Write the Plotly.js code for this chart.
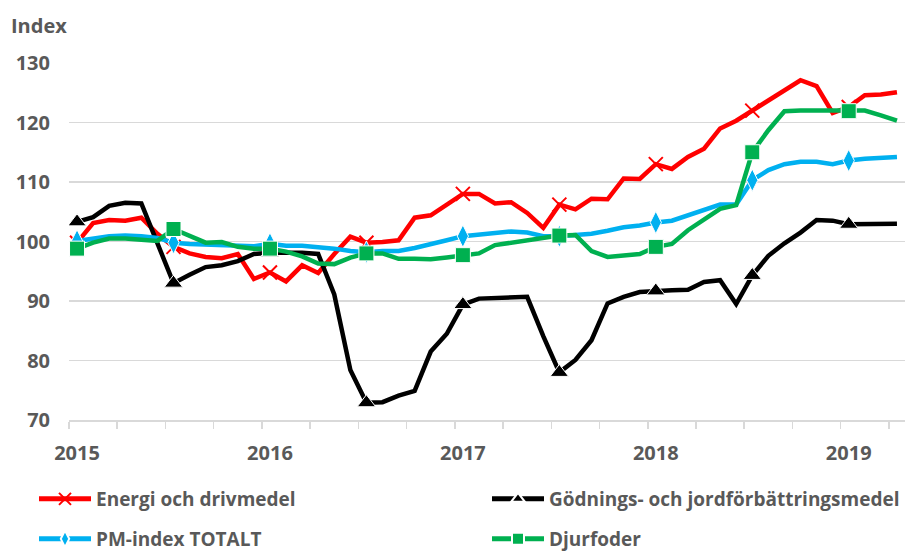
<!DOCTYPE html>
<html>
<head>
<meta charset="utf-8">
<script src="https://cdn.plot.ly/plotly-3.0.1.min.js"></script>
<style>html,body{margin:0;padding:0;background:#fff;}#chart{width:919px;height:552px;}</style>
</head>
<body>
<div id="chart"></div>
<script>
// Monthly index values, Jan 2015 .. Apr 2019
const yearLabels = ['2015', '2016', '2017', '2018', '2019'];
const yearPositions = [0, 12, 24, 36, 48];

const energi = [99.8, 103.1, 103.6, 103.5, 104.0, 101.3, 99.1, 98.0, 97.4, 97.2, 97.9, 93.7,
  94.8, 93.3, 96.0, 94.7, 97.9, 100.8, 99.8, 99.9, 100.2, 104.0, 104.4, 106.3,
  108.0, 108.0, 106.4, 106.6, 104.8, 102.3, 106.2, 105.4, 107.2, 107.1, 110.6, 110.5,
  113.0, 112.2, 114.2, 115.6, 119.0, 120.3, 122.0, 123.7, 125.3, 127.1, 126.1, 121.6,
  122.6, 124.6, 124.7, 125.1];

const godning = [103.3, 104.1, 106.0, 106.5, 106.4, 99.7, 93.0, 94.4, 95.7, 96.0, 96.7, 97.9,
  98.1, 98.1, 98.1, 97.9, 91.1, 78.4, 72.9, 73.0, 74.1, 74.9, 81.5, 84.5,
  89.4, 90.4, 90.5, 90.6, 90.7, 84.1, 78.0, 80.1, 83.4, 89.6, 90.7, 91.5,
  91.7, 91.8, 91.9, 93.2, 93.5, 89.5, 94.3, 97.6, 99.7, 101.5, 103.6, 103.5,
  102.9, 102.9, 103.0, 103.0];

const pmIndex = [100.1, 100.5, 100.9, 101.0, 100.9, 100.6, 99.8, 99.6, 99.5, 99.5, 99.3, 99.2,
  99.6, 99.3, 99.3, 99.1, 98.8, 98.4, 98.2, 98.4, 98.4, 98.9, 99.5, 100.2,
  100.9, 101.2, 101.4, 101.7, 101.5, 100.9, 100.9, 101.1, 101.3, 101.8, 102.4, 102.7,
  103.2, 103.5, 104.4, 105.3, 106.2, 106.2, 110.3, 112.0, 113.0, 113.4, 113.4, 113.0,
  113.6, 113.9, 114.0, 114.2];

const djurfoder = [98.8, 99.8, 100.5, 100.5, 100.3, 100.1, 102.1, 100.9, 99.8, 99.9, 99.1, 98.8,
  98.8, 98.3, 97.5, 96.3, 96.2, 97.3, 98.0, 98.0, 97.1, 97.1, 97.0, 97.3,
  97.7, 98.0, 99.4, 99.8, 100.1, 100.6, 101.0, 101.1, 98.4, 97.4, 97.6, 97.9,
  99.1, 99.6, 101.9, 103.8, 105.5, 106.1, 115.0, 118.7, 121.9, 122.0, 122.0, 122.0,
  121.9, 122.0, 121.2, 120.3];

const seriesNames = ['Energi och drivmedel', 'Gödnings- och jordförbättringsmedel', 'PM-index TOTALT', 'Djurfoder'];

const xIdx = energi.map((_, i) => i);
const markerEvery = 6;
function sizes(s) { return xIdx.map(i => (i % markerEvery === 0 ? s : 0)); }

const FONT = 'Open Sans, Lato, Liberation Sans, sans-serif';

const traces = [
  {
    x: xIdx, y: energi, name: seriesNames[0], type: 'scatter', mode: 'lines+markers',
    line: {color: '#FF0000', width: 4.5},
    marker: {symbol: 'x-thin-open', size: sizes(14), opacity: 1, color: '#FF0000', line: {color: '#FF0000', width: 2}},
    legend: 'legend'
  },
  {
    x: xIdx, y: godning, name: seriesNames[1], type: 'scatter', mode: 'lines+markers',
    line: {color: '#000000', width: 4.5},
    marker: {symbol: 'triangle-up', size: sizes(16), opacity: 1, color: '#000000'},
    legend: 'legend2'
  },
  {
    x: xIdx, y: pmIndex, name: seriesNames[2], type: 'scatter', mode: 'lines+markers',
    line: {color: '#00B0F0', width: 4.5},
    marker: {symbol: 'diamond-tall', size: sizes(16), opacity: 1, color: '#00B0F0'},
    legend: 'legend3'
  },
  {
    x: xIdx, y: djurfoder, name: seriesNames[3], type: 'scatter', mode: 'lines+markers',
    line: {color: '#00B050', width: 4.5},
    marker: {symbol: 'square', size: sizes(15), opacity: 1, color: '#00B050'},
    legend: 'legend4'
  }
];

const boundaryTicks = [];
for (let k = 0; k <= 17; k++) boundaryTicks.push(-0.5 + 3 * k);

const legendCommon = {
  orientation: 'h', xref: 'container', yref: 'container', xanchor: 'left', yanchor: 'middle',
  font: {family: FONT, size: 19, color: '#595959', weight: 700},
  itemwidth: 52, itemsizing: 'constant', bgcolor: 'rgba(0,0,0,0)', borderwidth: 0
};
function legendAt(px, py) {
  return Object.assign({}, legendCommon, {x: px / 919, y: 1 - py / 552});
}

const layout = {
  width: 919, height: 552,
  margin: {l: 69, r: 14, t: 63, b: 132, pad: 0},
  paper_bgcolor: '#ffffff', plot_bgcolor: '#ffffff',
  title: {
    text: 'Index', xref: 'container', yref: 'container',
    x: 11 / 919, xanchor: 'left', y: 1 - 26 / 552, yanchor: 'middle',
    font: {family: FONT, size: 20, color: '#595959', weight: 700}
  },
  xaxis: {
    range: [-0.5, 51.5], tickmode: 'array', tickvals: yearPositions, ticktext: yearLabels,
    ticks: '', showgrid: false, zeroline: false,
    showline: true, linecolor: '#D9D9D9', linewidth: 1.5,
    ticklabelstandoff: 14,
    tickfont: {family: FONT, size: 20, color: '#595959', weight: 700},
    minor: {tickmode: 'array', tickvals: boundaryTicks, ticks: 'outside', ticklen: 7, tickcolor: '#D9D9D9', tickwidth: 1.5, showgrid: false}
  },
  yaxis: {
    range: [70, 130], tickmode: 'linear', tick0: 70, dtick: 10,
    ticks: '', showgrid: true, gridcolor: '#D9D9D9', gridwidth: 1.5, zeroline: false, showline: false,
    ticklabelstandoff: 18,
    tickfont: {family: FONT, size: 20, color: '#595959', weight: 700}
  },
  legend: legendAt(34, 499),
  legend2: legendAt(487, 499),
  legend3: legendAt(34, 539),
  legend4: legendAt(487, 539),
  showlegend: true
};

Plotly.newPlot('chart', traces, layout, {displayModeBar: false, staticPlot: true});
</script>
</body>
</html>
